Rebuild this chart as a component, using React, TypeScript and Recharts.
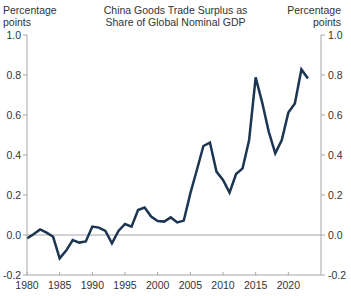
/** China goods trade surplus as share of global nominal GDP, 1980-2023 */
import { LineChart, Line, XAxis, YAxis, ReferenceLine } from 'recharts'

const years = [
  1980, 1981, 1982, 1983, 1984, 1985, 1986, 1987, 1988, 1989,
  1990, 1991, 1992, 1993, 1994, 1995, 1996, 1997, 1998, 1999,
  2000, 2001, 2002, 2003, 2004, 2005, 2006, 2007, 2008, 2009,
  2010, 2011, 2012, 2013, 2014, 2015, 2016, 2017, 2018, 2019,
  2020, 2021, 2022, 2023,
]

const surplus = [
  -0.017, 0.004, 0.028, 0.012, -0.009, -0.117, -0.078, -0.025, -0.038, -0.032,
  0.042, 0.037, 0.02, -0.042, 0.02, 0.055, 0.042, 0.125, 0.137, 0.092,
  0.07, 0.067, 0.088, 0.063, 0.072, 0.208, 0.325, 0.445, 0.462, 0.317,
  0.275, 0.212, 0.305, 0.333, 0.475, 0.788, 0.662, 0.517, 0.408, 0.475,
  0.612, 0.658, 0.828, 0.783,
]

const yTicks = [-0.2, 0, 0.2, 0.4, 0.6, 0.8, 1.0]
const xTicks = [1980, 1985, 1990, 1995, 2000, 2005, 2010, 2015, 2020]

const data = years.map((year, i) => ({ year, value: surplus[i] }))

const FONT = 'Arial, "Liberation Sans", sans-serif'
const TEXT = '#333333'
const AXIS = '#a6a6a6'

// x ticks point up into the plot, labels sit below the axis
function XTick({ x, y, payload }: any) {
  return (
    <g>
      <line x1={x} y1={y - 3} x2={x} y2={y} stroke={AXIS} strokeWidth={1} />
      <text x={x} y={y + 14} textAnchor="middle" fill={TEXT} fontSize={10.5} fontFamily={FONT}>
        {payload.value}
      </text>
    </g>
  )
}

const fmt = (v: number) => v.toFixed(1)

export default function App() {
  return (
    <div style={{ position: 'absolute', left: 0, top: 0, width: 351, height: 296, background: '#fff' }}>
      <div style={{ position: 'absolute', left: 3, top: 4, fontFamily: FONT, fontSize: 10.5, color: TEXT, lineHeight: '12px' }}>
        Percentage<br />points
      </div>
      <div style={{ position: 'absolute', left: 0, width: 351, top: 4, textAlign: 'center', fontFamily: FONT, fontSize: 10.5, color: TEXT, lineHeight: '12px' }}>
        China Goods Trade Surplus as<br />Share of Global Nominal GDP
      </div>
      <div style={{ position: 'absolute', right: 10, top: 4, textAlign: 'right', fontFamily: FONT, fontSize: 10.5, color: TEXT, lineHeight: '12px' }}>
        Percentage<br />points
      </div>
      <LineChart width={351} height={296} data={data} margin={{ top: 35, right: 0, bottom: 0, left: 0 }}>
        <XAxis
          dataKey="year"
          type="number"
          domain={[1980, 2025]}
          ticks={xTicks}
          interval={0}
          height={21}
          tickSize={0}
          tickMargin={0}
          tickLine={false}
          stroke={AXIS}
          tick={<XTick />}
        />
        <YAxis
          yAxisId="left"
          orientation="left"
          domain={[-0.2, 1.0]}
          ticks={yTicks}
          interval={0}
          width={27}
          tickSize={4}
          tickMargin={2}
          tickFormatter={fmt}
          stroke={AXIS}
          tick={{ fill: TEXT, fontSize: 10.5, fontFamily: FONT }}
        />
        <YAxis
          yAxisId="right"
          orientation="right"
          domain={[-0.2, 1.0]}
          ticks={yTicks}
          interval={0}
          width={30}
          tickSize={4}
          tickMargin={3}
          tickFormatter={fmt}
          stroke={AXIS}
          tick={{ fill: TEXT, fontSize: 10.5, fontFamily: FONT }}
        />
        <ReferenceLine yAxisId="left" y={0} stroke={AXIS} strokeWidth={1} />
        {/* invisible copy so the right axis has a series bound to it */}
        <Line
          yAxisId="right"
          type="linear"
          dataKey="value"
          stroke="none"
          dot={false}
          activeDot={false}
          legendType="none"
          isAnimationActive={false}
        />
        <Line
          yAxisId="left"
          type="linear"
          dataKey="value"
          stroke="#1b3553"
          strokeWidth={2.5}
          dot={false}
          isAnimationActive={false}
        />
      </LineChart>
    </div>
  )
}
